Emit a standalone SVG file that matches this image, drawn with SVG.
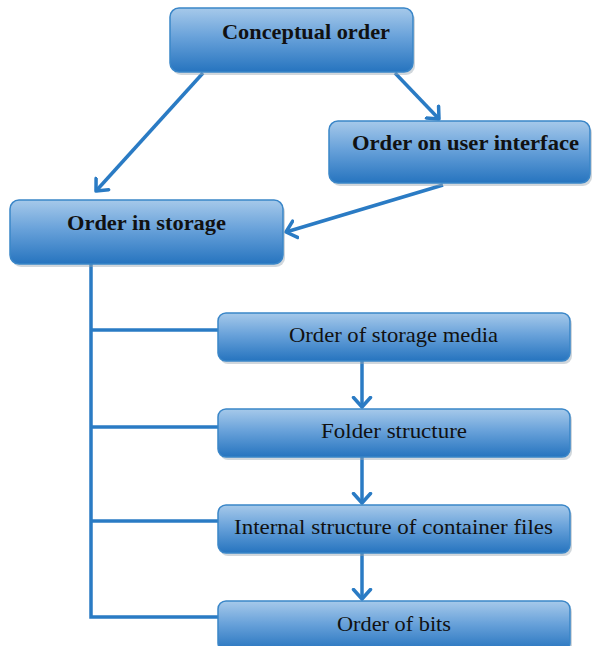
<svg xmlns="http://www.w3.org/2000/svg" width="593" height="646" viewBox="0 0 593 646">
<defs>
<linearGradient id="g" x1="0" y1="0" x2="0" y2="1">
<stop offset="0" stop-color="#a6c9ea"/>
<stop offset="0.45" stop-color="#69a2da"/>
<stop offset="1" stop-color="#2674bf"/>
</linearGradient>
<marker id="ah" markerUnits="userSpaceOnUse" markerWidth="22" markerHeight="22" viewBox="-11 -11 22 22" refX="0" refY="0" orient="auto">
<path d="M-9.5,-8.5 L0,0 L-9.5,8.5" fill="none" stroke="#2a7bc4" stroke-width="3.5" stroke-linecap="round" stroke-linejoin="round"/>
</marker>
</defs>
<style>
.box{fill:url(#g);stroke:#3a86c8;stroke-width:1.5}
.sh{fill:#9aa6b2;opacity:0.45}
.b{font-family:"Liberation Serif",serif;font-weight:bold;font-size:22px;fill:#111}
.r{font-family:"Liberation Serif",serif;font-size:21px;fill:#111}
.c{fill:none;stroke:#2a7bc4;stroke-width:3.5}
</style>
<rect width="593" height="646" fill="#ffffff"/>
<g id="connectors">
<line class="c" x1="203" y1="73" x2="96" y2="191" marker-end="url(#ah)"/>
<line class="c" x1="395" y1="73" x2="439" y2="119" marker-end="url(#ah)"/>
<line class="c" x1="443" y1="185" x2="286" y2="232" marker-end="url(#ah)"/>
<polyline class="c" points="91,264 91,617 218,617"/>
<line class="c" x1="91" y1="330" x2="218" y2="330"/>
<line class="c" x1="91" y1="427" x2="218" y2="427"/>
<line class="c" x1="91" y1="521" x2="218" y2="521"/>
<line class="c" x1="362" y1="361" x2="362" y2="407" marker-end="url(#ah)"/>
<line class="c" x1="362" y1="457" x2="362" y2="503" marker-end="url(#ah)"/>
<line class="c" x1="362" y1="553" x2="362" y2="599" marker-end="url(#ah)"/>
</g>
<g id="conceptual">
<rect class="sh" x="172" y="11" width="243" height="64" rx="9"/>
<rect class="box" x="170" y="8" width="243" height="64" rx="9"/>
<text class="b" x="222" y="39" textLength="168" lengthAdjust="spacingAndGlyphs">Conceptual order</text>
</g>
<g id="ui">
<rect class="sh" x="331" y="124" width="261" height="62" rx="9"/>
<rect class="box" x="329" y="121" width="261" height="62" rx="9"/>
<text class="b" x="352" y="150" textLength="227" lengthAdjust="spacingAndGlyphs">Order on user interface</text>
</g>
<g id="storage">
<rect class="sh" x="12" y="203" width="273" height="64" rx="9"/>
<rect class="box" x="10" y="200" width="273" height="64" rx="9"/>
<text class="b" x="67" y="230" textLength="159" lengthAdjust="spacingAndGlyphs">Order in storage</text>
</g>
<g id="media">
<rect class="sh" x="220" y="316" width="352" height="48" rx="8"/>
<rect class="box" x="218" y="313" width="352" height="48" rx="8"/>
<text class="r" x="289" y="342" textLength="209" lengthAdjust="spacingAndGlyphs">Order of storage media</text>
</g>
<g id="folder">
<rect class="sh" x="220" y="412" width="352" height="48" rx="8"/>
<rect class="box" x="218" y="409" width="352" height="48" rx="8"/>
<text class="r" x="321" y="438" textLength="146" lengthAdjust="spacingAndGlyphs">Folder structure</text>
</g>
<g id="container">
<rect class="sh" x="220" y="508" width="352" height="48" rx="8"/>
<rect class="box" x="218" y="505" width="352" height="48" rx="8"/>
<text class="r" x="234" y="534" textLength="319" lengthAdjust="spacingAndGlyphs">Internal structure of container files</text>
</g>
<g id="bits">
<rect class="sh" x="220" y="604" width="352" height="50" rx="8"/>
<rect class="box" x="218" y="601" width="352" height="50" rx="8"/>
<text class="r" x="337" y="631" textLength="114" lengthAdjust="spacingAndGlyphs">Order of bits</text>
</g>
</svg>
